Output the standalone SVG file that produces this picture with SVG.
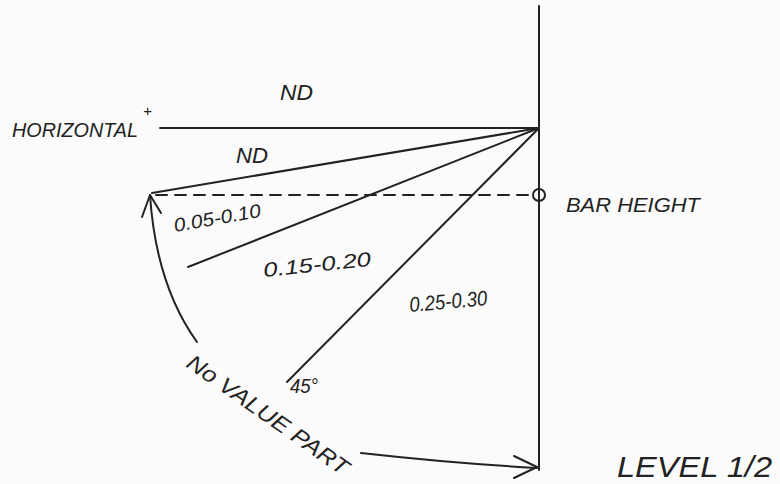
<svg xmlns="http://www.w3.org/2000/svg" width="780" height="484" viewBox="0 0 780 484">
<style>
.ln{stroke:#222;stroke-width:2;fill:none;stroke-linecap:round;stroke-linejoin:round}
.t{font-family:"Liberation Sans",Arial,sans-serif;font-style:italic;fill:#222}
</style>
<rect width="780" height="484" fill="#fbfbfb"/>
<g id="connectors">
<line class="ln" x1="539" y1="6" x2="539" y2="470"/>
<line class="ln" x1="160" y1="128" x2="539" y2="128"/>
<line class="ln" x1="152" y1="193" x2="539" y2="128"/>
<line class="ln" x1="188" y1="267" x2="539" y2="128"/>
<line class="ln" x1="287" y1="382" x2="539" y2="128"/>
<line class="ln" x1="156" y1="195" x2="533" y2="195" stroke-dasharray="11,8" stroke-width="1.8"/>
<path class="ln" d="M150,195 Q156,285 197,342"/>
<path class="ln" d="M142,217 L150,195 L161,213"/>
<path class="ln" d="M361,453 Q450,463 537,468"/>
<path class="ln" d="M514,456 L537,467 L514,478"/>
</g>
<g id="bar-height">
<circle cx="539" cy="195" r="6" fill="none" stroke="#222" stroke-width="2"/>
<text class="t" x="566" y="212" font-size="21" textLength="134" lengthAdjust="spacingAndGlyphs">BAR HEIGHT</text>
</g>
<g id="labels">
<text class="t" x="280" y="100" font-size="22" font-style="normal" textLength="33" lengthAdjust="spacingAndGlyphs">ND</text>
<text class="t" x="12" y="137" font-size="21" textLength="126" lengthAdjust="spacingAndGlyphs">HORIZONTAL</text>
<text class="t" x="143" y="116" font-size="15" font-style="normal">+</text>
<text class="t" x="236" y="163" font-size="22" font-style="normal" textLength="32" lengthAdjust="spacingAndGlyphs">ND</text>
<text class="t" x="175" y="232" font-size="19" textLength="88" lengthAdjust="spacingAndGlyphs" transform="rotate(-10 175 232)">0.05-0.10</text>
<text class="t" x="264" y="277" font-size="20" textLength="108" lengthAdjust="spacingAndGlyphs" transform="rotate(-6 264 277)">0.15-0.20</text>
<text class="t" x="410" y="312" font-size="21" textLength="78" lengthAdjust="spacingAndGlyphs" transform="rotate(-5 410 312)">0.25-0.30</text>
<text class="t" x="290" y="393" font-size="20" textLength="28" lengthAdjust="spacingAndGlyphs">45°</text>
<text class="t" x="185" y="366" font-size="22" textLength="192" lengthAdjust="spacingAndGlyphs" transform="rotate(35 185 366)">No VALUE PART</text>
<text class="t" x="617" y="477" font-size="30" textLength="155" lengthAdjust="spacingAndGlyphs">LEVEL 1/2</text>
</g>
</svg>
